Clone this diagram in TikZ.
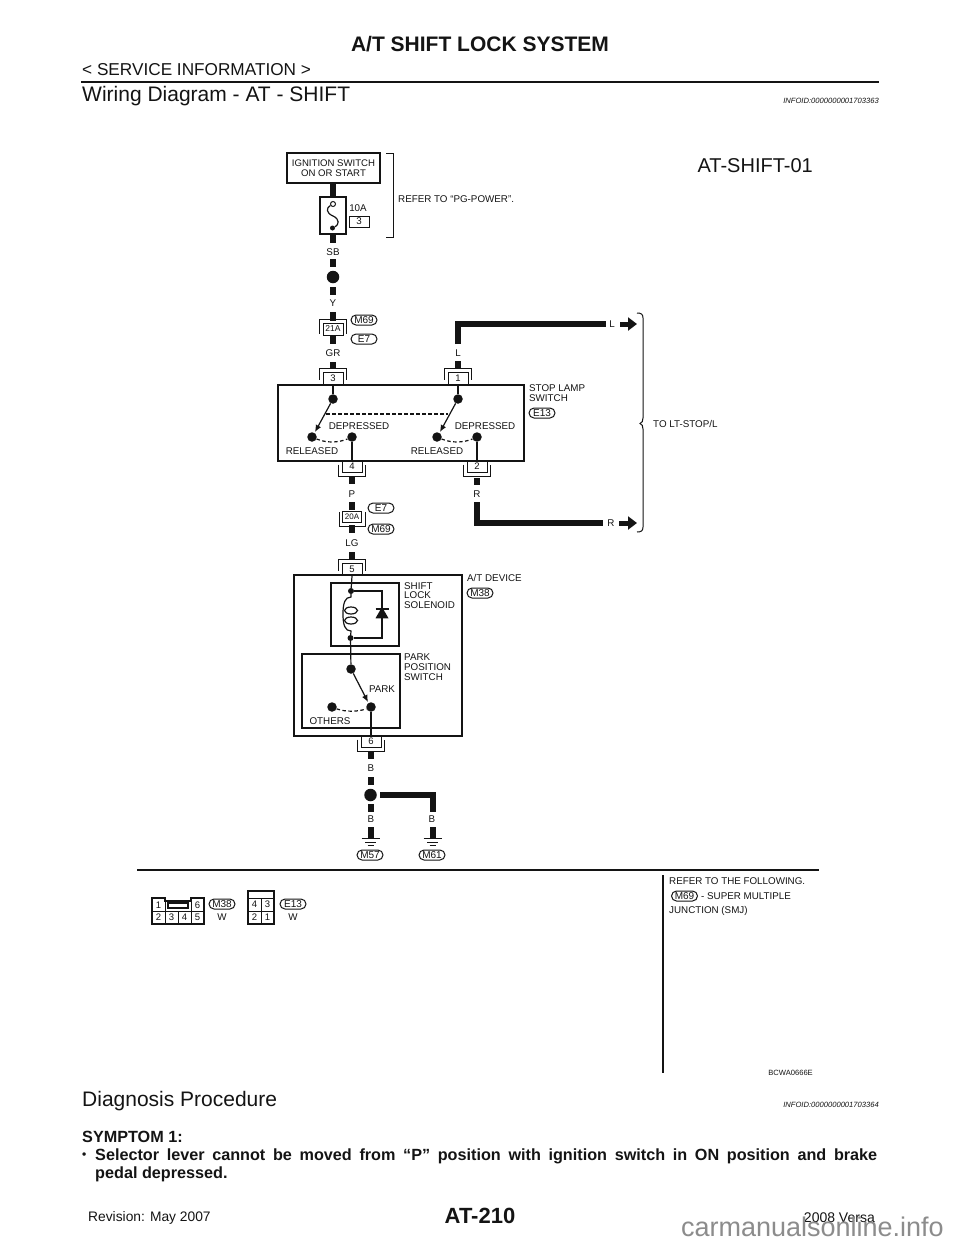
\documentclass[tikz,border=0pt]{standalone}
\usepackage{fontspec}
\setmainfont{Liberation Sans}
\usetikzlibrary{shapes.misc,shapes.geometric,arrows.meta,calc}
\definecolor{ink}{HTML}{141414}
\newcommand{\fsz}[1]{\fontsize{#1}{#1}\selectfont}
\tikzset{
  lbl/.style={inner sep=0pt,text=ink,font=\fsz{9.8},align=left},
  lblc/.style={lbl,anchor=center},
  lbll/.style={lbl,anchor=west},
  oval/.style={rounded rectangle,draw=ink,line width=1pt,minimum width=26pt,minimum height=10pt,inner sep=0pt,font=\fsz{10},text=ink},
  thin wire/.style={draw=ink,line width=1.2pt},
  box/.style={draw=ink,line width=1.2pt},
  thick wire/.style={draw=ink,line width=6pt},
  dotnode/.style={circle,fill=ink,inner sep=0pt,minimum size=#1},
  thinb/.style={draw=ink,line width=1pt},
  sw/.style={draw=ink,line width=1.2pt,-{Latex[length=7pt,width=6pt]}},
  dsh/.style={draw=ink,line width=1.2pt,dash pattern=on 3.5pt off 2.5pt},
  pagetxt/.style={inner sep=0pt,text=ink}
}
% wire stub: name, x, y1, y2
\newcommand{\wirex}[4]{\coordinate (#1a) at (#2,#3);\coordinate (#1b) at (#2,#4);\path[thick wire] (#1a) -- (#1b);}
% connector with bracket on top: name, x, bracket top, body y, label
\newcommand{\topconn}[5]{%
  \node[lblc,draw=ink,line width=1pt,minimum width=20pt,minimum height=#4pt-#3pt-4pt,font=\fsz{9.5}] (#1) at (#2,{(#3+4+#4)/2}) {#5};
  \draw[thinb] ($(#1.north west)+(-3,8)$) -- ($(#1.north west)+(-3,-3)$) -- ($(#1.north east)+(3,-3)$) -- ($(#1.north east)+(3,8)$);}
% connector with bracket below: name, x, body y, bracket bottom, label
\newcommand{\botconn}[5]{%
  \node[lblc,draw=ink,line width=1pt,minimum width=20pt,minimum height=#4pt-#3pt-5pt,font=\fsz{9.5}] (#1) at (#2,{(#3+#4-5)/2}) {#5};
  \draw[thinb] ($(#1.south west)+(-3,-8)$) -- ($(#1.south west)+(-3,4)$) -- ($(#1.south east)+(3,4)$) -- ($(#1.south east)+(3,-8)$);}
\newcommand{\gnd}[2]{%
  \coordinate (#1g) at (#2,838.5);
  \draw[thinb,line width=1.3pt] ($(#1g)+(-9,0)$) -- ($(#1g)+(9,0)$);
  \draw[thinb] ($(#1g)+(-5.5,3.5)$) -- ($(#1g)+(5.5,3.5)$);
  \draw[thinb] ($(#1g)+(-3,6.5)$) -- ($(#1g)+(3,6.5)$);}
\begin{document}
\begin{tikzpicture}[x=1pt,y=-1pt]
\useasboundingbox (0,0) rectangle (960,1242);
\fill[white] (0,0) rectangle (960,1242);
% page furniture
\node[pagetxt,font=\fsz{21}\bfseries] (title) at (480,44) {A/T SHIFT LOCK SYSTEM};
\node[pagetxt,anchor=west,font=\fsz{17.2}] (svc) at (82,70) {< SERVICE INFORMATION >};
\coordinate (ruleL) at (81,82); \coordinate (ruleR) at (879,82);
\draw[ink,line width=2.4pt] (ruleL) -- (ruleR);
\node[pagetxt,anchor=west,font=\fsz{21}] (wd) at (82,96) {Wiring Diagram - AT - SHIFT};
\node[pagetxt,anchor=east,font=\fsz{7.6}\itshape] (id1) at (879,101) {INFOID:0000000001703363};
\node[pagetxt,anchor=east,font=\fsz{20}] (sheet) at (813,166) {AT-SHIFT-01};

% ignition and fuse
\node[box,lblc,align=center,minimum width=93pt,minimum height=30pt,font=\fsz{9.6}] (ign) at (333.5,168) {IGNITION SWITCH\\[0.6pt]ON OR START};
\node[box,minimum width=26pt,minimum height=37pt,inner sep=0pt] (fuse) at (333,215.5) {};
\draw[thick wire] (ign.south -| fuse.north) -- (fuse.north);
\node[circle,draw=ink,line width=1pt,fill=white,inner sep=0pt,minimum size=5pt] (fa) at (333,204) {};
\node[dotnode=5pt] (fb) at (332.5,228) {};
\draw[thin wire] (fa) .. controls (326,208) and (326,213) .. (333,216) .. controls (340,219) and (339,225) .. (fb);
\node[lblc] (tenA) at (358,208) {10A};
\node[lblc,draw=ink,line width=1pt,minimum width=20pt,minimum height=11pt] (fnum) at (359,221.5) {3};
\coordinate (brA) at (386,153); \coordinate (brB) at (393,153); \coordinate (brC) at (393,237); \coordinate (brD) at (386,237);
\draw[thinb] (brA) -- (brB) -- (brC) -- (brD);
\node[lbll] (refer) at (398,199) {REFER TO “PG-POWER”.};

% main power line
\coordinate (fs) at (fuse.south);
\path[thick wire] (fs) -- (333,243);
\node[lblc] (sb) at (333,252) {SB};
\wirex{w1}{333}{259}{267}
\node[dotnode=12.5pt] (j1) at (333,277) {};
\wirex{w2}{333}{287}{295}
\node[lblc] (y) at (333,303) {Y};
\wirex{w3}{333}{312}{321}
\node[draw=ink,line width=1pt,lblc,minimum width=20pt,minimum height=12pt,font=\fsz{8.5}] (c21) at (333,329) {21A};
\draw[thinb] ($(c21.south west)+(-3,-2)$) -- ($(c21.north west)+(-3,-3)$) -- ($(c21.north east)+(3,-3)$) -- ($(c21.south east)+(3,-2)$);
\wirex{w4}{333}{335}{344}
\node[oval] (m69a) at (364,320) {M69};
\node[oval] (e7a) at (364,339) {E7};
\node[lblc] (gr) at (333,353) {GR};
\wirex{w5}{333}{362}{369}
\topconn{c3}{333}{368}{385}{3}
\node[lblc] (ll) at (458,353) {L};
\wirex{w6}{458}{361}{369}
\topconn{c1}{458}{368}{385}{1}

% L run to arrow
\coordinate (la) at (458,344); \coordinate (lb) at (458,324); \coordinate (lc) at (606,324);
\draw[thick wire,line join=miter] (la) -- (lb) -- (lc);
\node[lblc] (lr) at (612,324) {L};
\coordinate (lar) at (620,324); \coordinate (larE) at (637,324);
\draw[draw=ink,line width=5pt,-{Triangle[length=9pt,width=13pt]}] (lar) -- (larE);

% stop lamp switch
\node[box,minimum width=246pt,minimum height=76pt,inner sep=0pt] (slsw) at (401,423) {};
\node[dotnode=9.5pt] (s1) at (333,399) {};
\node[dotnode=9.5pt] (s2) at (458,399) {};
\draw[thin wire] (c3) -- (s1);
\draw[thin wire] (c1.south) -- (s2);
\node[dotnode=9.5pt] (r1) at (312,437) {};
\node[dotnode=9.5pt] (d1) at (352,437) {};
\node[dotnode=9.5pt] (r2) at (437,437) {};
\node[dotnode=9.5pt] (d2) at (477,437) {};
\coordinate (t1) at (315,432); \coordinate (t2) at (440,432);
\draw[sw] (s1) -- (t1);
\draw[sw] (s2) -- (t2);
\coordinate (m1) at (326,414); \coordinate (m2) at (448,414);
\draw[dsh] (m1) -- (m2);
\draw[dsh] (r1) .. controls (326,443) and (338,443) .. (d1);
\draw[dsh] (r2) .. controls (451,443) and (463,443) .. (d2);
\node[lblc] (dp1) at (359,426) {DEPRESSED};
\node[lblc] (dp2) at (485,426) {DEPRESSED};
\node[lblc] (rl1) at (312,451) {RELEASED};
\node[lblc] (rl2) at (437,451) {RELEASED};
\node[lbll,align=left] (slab) at (529,393) {STOP LAMP\\[-0.2pt]SWITCH};
\node[oval] (e13) at (542,413) {E13};
\botconn{c4}{352}{461}{477}{4}
\botconn{c2}{477}{461}{477}{2}
\draw[thin wire] (d1) -- (c4.north);
\draw[thin wire] (d2) -- (c2.north);
\wirex{w7}{352}{477}{484}
\wirex{w8}{477}{478}{485}
\node[lblc] (p) at (352,494) {P};
\node[lblc] (rr) at (477,494) {R};

% R run to arrow
\coordinate (ra) at (476.5,502); \coordinate (rb) at (476.5,522.5); \coordinate (rc) at (603,522.5);
\draw[thick wire,line join=miter] (ra) -- (rb) -- (rc);
\node[lblc] (rr2) at (611,523) {R};
\coordinate (rar) at (619,523); \coordinate (rarE) at (637,523);
\draw[draw=ink,line width=5pt,-{Triangle[length=9pt,width=13pt]}] (rar) -- (rarE);
% brace
\coordinate (ba) at (637,313); \coordinate (bb) at (637,532); \coordinate (bm) at (640,423);
\draw[thinb,line width=1pt] (ba) .. controls (641,313) and (643,314) .. (643,318) -- (643,418) .. controls (643,421) and (642,423) .. (640,423.5) .. controls (642,424) and (643,426) .. (643,429) -- (643,527) .. controls (643,531) and (641,532) .. (bb);
\node[lbll] (tolt) at (653,424) {TO LT-STOP/L};

% 20A joint
\wirex{w9}{352}{502}{510}
\node[draw=ink,line width=1pt,lblc,minimum width=19pt,minimum height=11pt,font=\fsz{8}] (c20) at (352,517) {20A};
\draw[thinb] ($(c20.north west)+(-3,1)$) -- ($(c20.south west)+(-3,3)$) -- ($(c20.south east)+(3,3)$) -- ($(c20.north east)+(3,1)$);
\wirex{w10}{352}{525}{533}
\node[oval] (e7b) at (381,508) {E7};
\node[oval] (m69b) at (381,529) {M69};
\node[lblc] (lg) at (352,543) {LG};
\wirex{w11}{352}{552}{560}
\topconn{c5}{352}{559}{575.5}{5}

% A/T device
\node[box,minimum width=168pt,minimum height=161pt,inner sep=0pt] (dev) at (378,655.5) {};
\node[lbll] (devl) at (467,578) {A/T DEVICE};
\node[oval] (m38) at (480,593) {M38};
\node[box,minimum width=68pt,minimum height=63pt,inner sep=0pt] (sol) at (365,614.5) {};
\node[box,minimum width=98pt,minimum height=74pt,inner sep=0pt] (pps) at (351,691) {};
\node[lbll,align=left] (soll) at (404,595.5) {SHIFT\\[0pt]LOCK\\[0pt]SOLENOID};
\node[lbll,align=left] (ppsl) at (404,667) {PARK\\[0pt]POSITION\\[0pt]SWITCH};
\node[dotnode=6pt] (sa) at (351,591) {};
\node[dotnode=6pt] (sb2) at (350.5,638) {};
\draw[thin wire] (c5.south) -- (sa);
\coordinate (dtr) at (382,591); \coordinate (dbr) at (382,638);
\draw[thin wire] (sa) -- (dtr) -- (dbr) -- (sb2);
\node[draw=none,fill=ink,isosceles triangle,isosceles triangle apex angle=60,shape border rotate=90,inner sep=0pt,minimum height=10.5pt,minimum width=13pt] (diode) at (382,614.5) {};
\coordinate (dbl) at (375.5,609); \coordinate (dbrr) at (388.5,609);
\draw[thin wire] (dbl) -- (dbrr);
% coil
\coordinate (ca) at (351,597); \coordinate (cb) at (351,631);
\draw[thin wire] (sa) -- (ca) .. controls (345,597) and (343,603) .. (343,614) .. controls (343,625) and (345,631) .. (cb) -- (sb2);
\node[draw=ink,line width=1.2pt,ellipse,inner sep=0pt,minimum width=13pt,minimum height=7pt] (e1) at (351,610.5) {};
\node[draw=ink,line width=1.2pt,ellipse,inner sep=0pt,minimum width=13pt,minimum height=7pt] (e2) at (351,620.5) {};
% park switch
\node[dotnode=9.5pt] (pa) at (351,669) {};
\draw[thin wire] (sb2) -- (pa);
\node[dotnode=9.5pt] (pb) at (371,707) {};
\node[dotnode=9.5pt] (pc) at (332,707) {};
\coordinate (pt) at (368,702);
\draw[sw] (pa) -- (pt);
\draw[dsh] (pc) .. controls (345,712) and (358,712) .. (pb);
\node[lblc] (park) at (382,689) {PARK};
\node[lblc] (oth) at (330,721) {OTHERS};
\botconn{c6}{371}{736}{752}{6}
\draw[thin wire] (pb) -- (c6.north);
\wirex{w12}{370.5}{752}{759}
\node[lblc] (b1) at (371,768) {B};
\wirex{w13}{370.5}{777}{785}
\node[dotnode=12.5pt] (j2) at (370.5,795) {};
\wirex{w14}{370.5}{804}{812}
\node[lblc] (b2) at (371,819) {B};
\wirex{w15}{370.5}{827}{838}
\gnd{ga}{370.5}
\node[oval] (m57) at (370,855) {M57};
\coordinate (ha) at (380,794.5); \coordinate (hb) at (432.5,794.5); \coordinate (hc) at (432.5,812);
\draw[thick wire,line join=miter] (ha) -- (hb) -- (hc);
\node[lblc] (b3) at (432,819) {B};
\wirex{w16}{432.5}{827}{838}
\gnd{gb}{432.5}
\node[oval] (m61) at (432,855) {M61};

% lower panel
\coordinate (hrL) at (137,870); \coordinate (hrR) at (819,870);
\draw[ink,line width=1.8pt] (hrL) -- (hrR);
\coordinate (vrT) at (663,875); \coordinate (vrB) at (663,1073);
\draw[ink,line width=1.2pt] (vrT) -- (vrB);
\node[lbll] (rf) at (669,881) {REFER TO THE FOLLOWING.};
\node[oval] (m69c) at (684.5,896) {M69};
\node[lbll] (smj) at (701,896) {- SUPER MULTIPLE};
\node[lbll] (smj2) at (669,911) {JUNCTION (SMJ)};
% connector M38
\draw[thinb,line width=1.1pt] (152,898) -- (165,898) -- (165,901) -- (191,901) -- (191,898) -- (204,898) -- (204,924) -- (152,924) -- cycle;
\draw[thinb] (152,911) -- (204,911) (165,898) -- (165,924) (178,911) -- (178,924) (191,898) -- (191,924);
\draw[thinb,line width=1.2pt] (168,903) rectangle (188,908);
\node[lblc,font=\fsz{9.5}] (n1) at (158.5,905) {1};
\node[lblc,font=\fsz{9.5}] (n6) at (197.5,905) {6};
\node[lblc,font=\fsz{9.5}] (n2) at (158.5,917.5) {2};
\node[lblc,font=\fsz{9.5}] (n3) at (171.5,917.5) {3};
\node[lblc,font=\fsz{9.5}] (n4) at (184.5,917.5) {4};
\node[lblc,font=\fsz{9.5}] (n5) at (197.5,917.5) {5};
\node[oval] (m38b) at (222,904) {M38};
\node[lblc] (w1t) at (222,917) {W};
% connector E13
\draw[thinb,line width=1.1pt] (248,891) rectangle (274,924);
\draw[thinb] (248,898) -- (274,898) (248,911) -- (274,911) (261,898) -- (261,924);
\node[lblc,font=\fsz{9.5}] (q4) at (254.5,904.5) {4};
\node[lblc,font=\fsz{9.5}] (q3) at (267.5,904.5) {3};
\node[lblc,font=\fsz{9.5}] (q2) at (254.5,917.5) {2};
\node[lblc,font=\fsz{9.5}] (q1) at (267.5,917.5) {1};
\node[oval] (e13b) at (293,904) {E13};
\node[lblc] (w2t) at (293,917) {W};
\node[pagetxt,anchor=east,font=\fsz{7.6}] (bc) at (813,1073) {BCWA0666E};

% text below
\node[pagetxt,anchor=west,font=\fsz{21}] (dp) at (82,1101) {Diagnosis Procedure};
\node[pagetxt,anchor=east,font=\fsz{7.6}\itshape] (id2) at (879,1105) {INFOID:0000000001703364};
\node[pagetxt,anchor=west,font=\fsz{16.2}\bfseries] (sym) at (82,1137) {SYMPTOM 1:};
\node[pagetxt,anchor=west,font=\fsz{12}\bfseries] (bul) at (82,1156) {•};
\node[pagetxt,anchor=west,font=\fsz{16.2}\bfseries] (l1) at (95,1156) {\makebox[782pt][s]{Selector lever cannot be moved from “P” position with ignition switch in ON position and brake}};
\node[pagetxt,anchor=west,font=\fsz{16.2}\bfseries] (l2) at (95,1174) {pedal depressed.};
\node[pagetxt,anchor=west,font=\fsz{13.8}] (rev) at (88,1218) {Revision: May 2007};
\node[pagetxt,font=\fsz{22}\bfseries] (pg) at (480,1216) {AT-210};
\node[pagetxt,anchor=east,font=\fsz{14}] (ver) at (875,1218) {2008 Versa};
\node[inner sep=0pt,anchor=east,text=black!45,font=\fsz{27}] (wm) at (944,1227) {carmanualsonline.info};
\end{tikzpicture}
\end{document}
